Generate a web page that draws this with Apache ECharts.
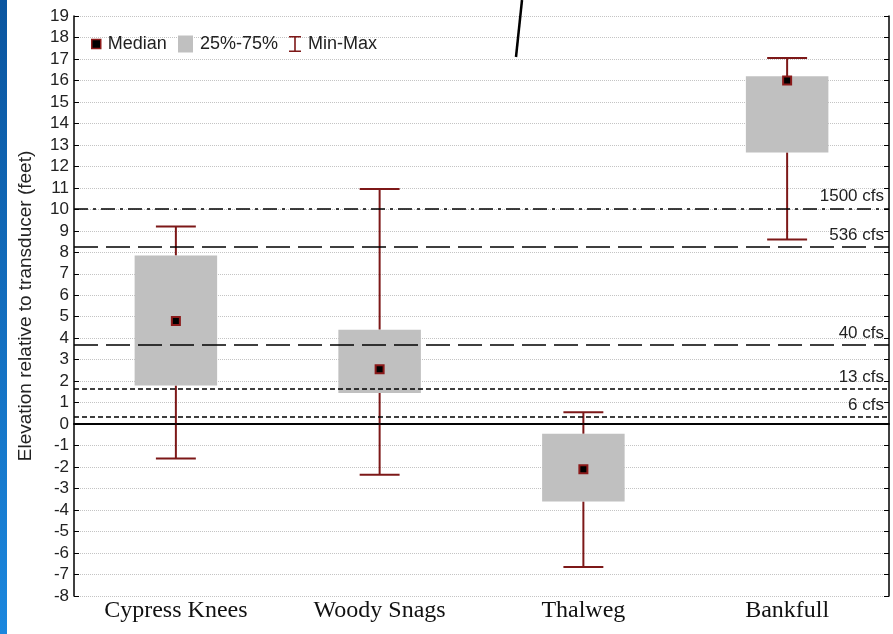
<!DOCTYPE html>
<html>
<head>
<meta charset="utf-8">
<script src="https://cdn.jsdelivr.net/npm/echarts@6/dist/echarts.min.js"></script>
<style>
html,body{margin:0;padding:0;background:#fff;}
#chart{width:893px;height:634px;}
</style>
</head>
<body>
<div id="chart"></div>
<script>
// ---- data ----
const categories = ['Cypress Knees', 'Woody Snags', 'Thalweg', 'Bankfull'];
const minVals    = [-1.6, -2.35, -6.65, 8.6];
const q1Vals     = [1.8, 1.45, -3.6, 12.65];
const medianVals = [4.8, 2.55, -2.1, 16.0];
const q3Vals     = [7.85, 4.4, -0.45, 16.2];
const maxVals    = [9.2, 10.95, 0.55, 17.05];
const refNames   = ['1500 cfs', '536 cfs', '40 cfs', '13 cfs', '6 cfs'];
const refLevels  = [10.05, 8.25, 3.7, 1.65, 0.35];
const yMin = -8, yMax = 19, yStep = 1;

// ---- styles ----
const whiskerColor = '#7d1818';
const boxColor = '#c0c0c0';
const refDash = [[14, 5, 3, 5], [24, 8], [24, 8], [5, 3], [5, 3]];
const sansFont = 'Liberation Sans, Arial, sans-serif';

const chart = echarts.init(document.getElementById('chart'), null, {renderer: 'canvas'});

const whiskerData = categories.map((c, i) => [i, minVals[i], q1Vals[i], q3Vals[i], maxVals[i]]);
const boxData = categories.map((c, i) => [i, q1Vals[i], q3Vals[i]]);

function renderWhisker(params, api) {
  const i = api.value(0);
  const band = api.size([1, 0])[0];
  const half = band * 0.098;
  const x = api.coord([i, 0])[0];
  const yMinP = api.coord([i, api.value(1)])[1];
  const yQ1 = api.coord([i, api.value(2)])[1];
  const yQ3 = api.coord([i, api.value(3)])[1];
  const yMaxP = api.coord([i, api.value(4)])[1];
  const st = {stroke: whiskerColor, lineWidth: 2};
  return {
    type: 'group',
    children: [
      {type: 'line', shape: {x1: x, y1: yQ3, x2: x, y2: yMaxP}, style: st},
      {type: 'line', shape: {x1: x, y1: yQ1, x2: x, y2: yMinP}, style: st},
      {type: 'line', shape: {x1: x - half, y1: yMaxP, x2: x + half, y2: yMaxP}, style: st},
      {type: 'line', shape: {x1: x - half, y1: yMinP, x2: x + half, y2: yMinP}, style: st}
    ]
  };
}

function renderBox(params, api) {
  const i = api.value(0);
  const band = api.size([1, 0])[0];
  const bw = band * 0.405;
  const x = api.coord([i, 0])[0];
  const yQ1 = api.coord([i, api.value(1)])[1];
  const yQ3 = api.coord([i, api.value(2)])[1];
  return {
    type: 'rect',
    shape: {x: x - bw / 2, y: yQ3, width: bw, height: yQ1 - yQ3},
    style: {fill: boxColor}
  };
}

const refLineData = refNames.map((n, i) => ({
  yAxis: refLevels[i],
  lineStyle: {type: refDash[i], color: '#000', width: 1.5},
  label: {formatter: n}
}));
refLineData.push({yAxis: 0, lineStyle: {type: 'solid', color: '#000', width: 1.5}, label: {show: false}});

const axisLineStyle = {lineStyle: {color: '#000', width: 1.5}};
const tickStyle = {inside: true, length: 5, lineStyle: {color: '#000', width: 1}};
const legendText = {fontFamily: sansFont, fontSize: 18, color: '#222', padding: [0, 0, 0, 2]};

const option = {
  animation: false,
  backgroundColor: '#fff',
  grid: {left: 74, right: 4, top: 16, bottom: 38},
  legend: [
    {data: [{name: 'Median', icon: 'rect', itemStyle: {color: '#000', borderColor: '#8b1a1a', borderWidth: 1.5}}],
     left: 86, top: 30, itemWidth: 9, itemHeight: 9, itemGap: 0, textStyle: legendText},
    {data: [{name: '25%-75%', icon: 'rect'}],
     left: 173, top: 30, itemWidth: 15, itemHeight: 17, textStyle: legendText},
    {data: [{name: 'Min-Max', icon: 'path://M0,0H12V1.6H6.8V14.4H12V16H0V14.4H5.2V1.6H0Z'}],
     left: 284, top: 30, itemWidth: 12, itemHeight: 16, textStyle: legendText}
  ],
  xAxis: [
    {type: 'category', data: categories, position: 'bottom',
     axisLine: axisLineStyle, axisTick: Object.assign({alignWithLabel: true}, tickStyle),
     axisLabel: {fontFamily: 'Liberation Serif, Times New Roman, serif', fontSize: 24, color: '#111', margin: 3},
     splitLine: {show: false}},
    {type: 'category', data: categories, position: 'top',
     axisLine: axisLineStyle, axisTick: Object.assign({alignWithLabel: true}, tickStyle),
     axisLabel: {show: false}, splitLine: {show: false}}
  ],
  yAxis: [
    {type: 'value', min: yMin, max: yMax, interval: yStep, position: 'left',
     name: 'Elevation relative to transducer (feet)', nameLocation: 'middle', nameGap: 39,
     nameTextStyle: {fontFamily: sansFont, fontSize: 19, color: '#222'},
     axisLine: Object.assign({show: true}, axisLineStyle), axisTick: Object.assign({show: true}, tickStyle),
     axisLabel: {fontFamily: sansFont, fontSize: 17, color: '#222', margin: 5},
     splitLine: {show: true, lineStyle: {type: 'dotted', color: '#c4c4c4', width: 1}}},
    {type: 'value', min: yMin, max: yMax, interval: yStep, position: 'right',
     axisLine: Object.assign({show: true}, axisLineStyle), axisTick: Object.assign({show: true}, tickStyle),
     axisLabel: {show: false}, splitLine: {show: false}}
  ],
  series: [
    {name: 'Min-Max', type: 'custom', renderItem: renderWhisker, data: whiskerData,
     encode: {x: 0, y: [1, 2, 3, 4]}, itemStyle: {color: whiskerColor}, z: 2, silent: true},
    {name: '25%-75%', type: 'custom', renderItem: renderBox, data: boxData,
     encode: {x: 0, y: [1, 2]}, itemStyle: {color: boxColor}, z: 3, silent: true},
    {name: 'Median', type: 'scatter', data: medianVals, symbol: 'rect', symbolSize: 8,
     itemStyle: {color: '#000', borderColor: '#8b1a1a', borderWidth: 2, opacity: 1}, z: 5, silent: true,
     markLine: {silent: true, symbol: ['none', 'none'], animation: false, z: 4,
       label: {position: 'insideEndTop', fontFamily: sansFont, fontSize: 17, color: '#222', distance: [5, 3]},
       data: refLineData}}
  ],
  graphic: [
    {type: 'rect', left: 0, top: 0, shape: {width: 7, height: 634}, silent: true,
     style: {fill: new echarts.graphic.LinearGradient(0, 0, 0, 1, [
       {offset: 0, color: '#0a559f'}, {offset: 1, color: '#1b87de'}])}},
    {type: 'line', shape: {x1: 522, y1: 0, x2: 516, y2: 57}, silent: true, z: 100,
     style: {stroke: '#000', lineWidth: 2.5}}
  ]
};
chart.setOption(option);
</script>
</body>
</html>
